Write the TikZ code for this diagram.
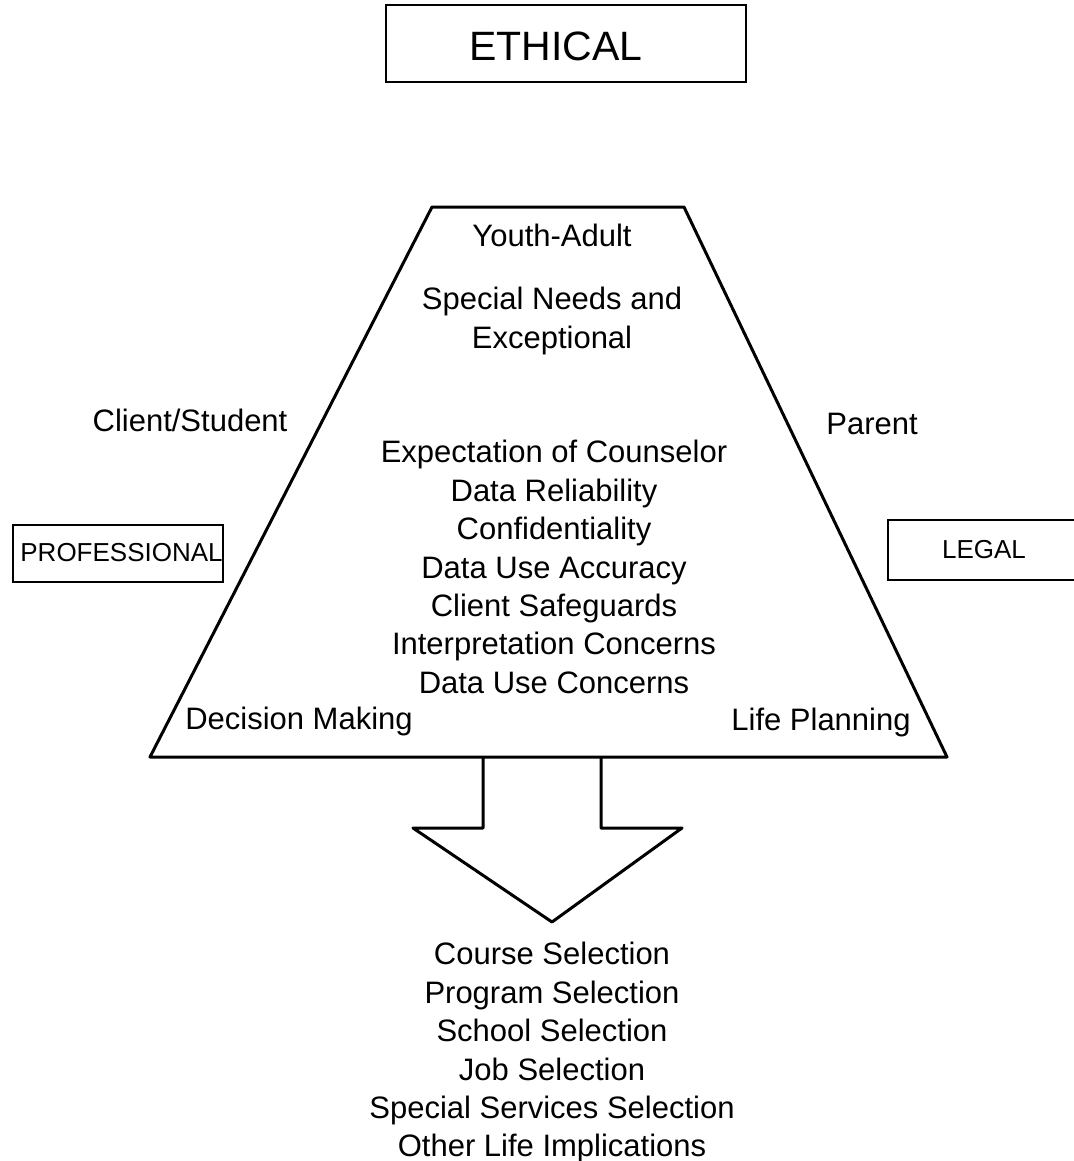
\documentclass[tikz,border=0pt]{standalone}
\usepackage{fontspec}
\setmainfont{Liberation Sans}
\usetikzlibrary{positioning}

\begin{document}
\begin{tikzpicture}[
    x=0.5pt, y=-0.5pt,
    box/.style={
        draw=black,
        line width=1pt,
        inner sep=0pt
    },
    txt/.style={font=\fontsize{15.5}{19.2}\selectfont, inner sep=0pt, align=center},
    side/.style={font=\fontsize{13}{15}\selectfont, inner sep=0pt}
]
\useasboundingbox (0,0) rectangle (1073,1161);

% top box
\node[box, minimum width=180pt, minimum height=38.5pt] (E) at (566,43.5) {};
\node[inner sep=0pt, font=\fontsize{20.5}{24}\selectfont] (Et) at (556,46) {ETHICAL};

% side boxes
\node[box, minimum width=105pt, minimum height=28.5pt, anchor=west] (P) at (12,553) {};
\node[side, anchor=west] (Pt) at (20,553) {PROFESSIONAL};
\node[box, minimum width=100pt, minimum height=30pt, anchor=west] (L) at (887,550) {};
\node[side] (Lt) at (984,550) {LEGAL};

% trapezoid
\coordinate (T1) at (432,207);
\coordinate (T2) at (684,207);
\coordinate (T3) at (947,757);
\coordinate (T4) at (150,757);
\draw[line width=1.5pt, line join=round] (T1) -- (T2) -- (T3) -- (T4) -- cycle;

% texts in and around the trapezoid
\node[txt, anchor=north] (Y) at (552,224) {Youth-Adult};
\node[txt, anchor=north] (S) at (552,287) {Special Needs and\\Exceptional};
\node[txt] (C) at (190,420) {Client/Student};
\node[txt] (Pa) at (872,424) {Parent};
\node[txt, anchor=north] (M) at (554,440) {Expectation of Counselor\\Data Reliability\\Confidentiality\\Data Use Accuracy\\Client Safeguards\\Interpretation Concerns\\Data Use Concerns};
\node[txt] (D) at (299,721) {Decision Making};
\node[txt] (LP) at (821,722) {Life Planning};

% arrow
\draw[line width=1.5pt, line join=round] (483,757) -- (483,828) -- (413,828) -- (552,922)
    -- (682,828) -- (601,828) -- (601,757);

% outcomes
\node[txt, anchor=north] (O) at (552,942) {Course Selection\\Program Selection\\School Selection\\Job Selection\\Special Services Selection\\Other Life Implications};

\end{tikzpicture}
\end{document}
